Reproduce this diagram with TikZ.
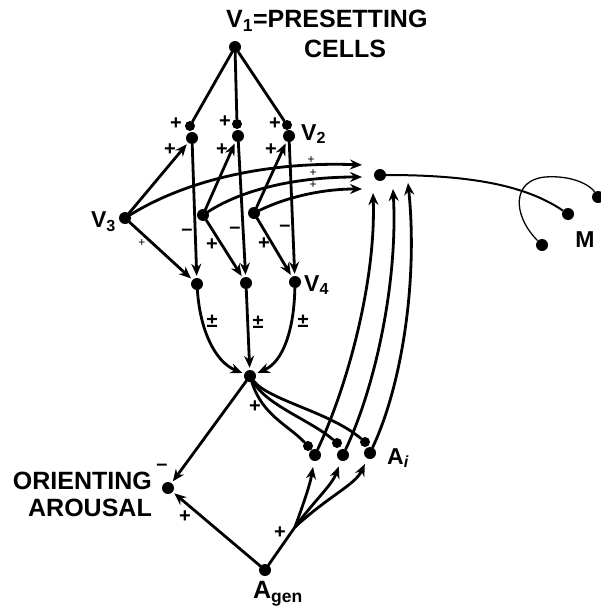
\documentclass[tikz,border=0pt]{standalone}
\usepackage{fontspec}
\setmainfont{Liberation Sans}
\usetikzlibrary{arrows.meta,positioning}
\tikzset{
  >={Stealth[length=12pt,width=10pt]},
  every node/.style={font=\fontsize{25}{28}\selectfont\bfseries},
  % --- nodes
  cell/.style = {circle, fill=black, inner sep=0pt, minimum size=12pt},
  knob/.style = {circle, fill=black, inner sep=0pt, minimum size=10pt},
  lbl/.style  = {font=\fontsize{23}{24}\selectfont\bfseries, inner sep=1pt},
  sgn/.style  = {font=\fontsize{20}{21}\selectfont\bfseries, inner sep=1pt},
  tsgn/.style = {font=\fontsize{12}{13}\selectfont, inner sep=1pt},
  % --- edges
  ax/.style   = {line width=2.8pt, line cap=round},
  axa/.style  = {ax, ->, shorten >=2pt},
  fine/.style = {line width=1.3pt},
}
\begin{document}
\begin{tikzpicture}[x=1pt,y=-1pt]
  \useasboundingbox (0,0) rectangle (601,610);

  % presetting cells
  \node[cell] (v1) at (235,47) {};
  \node[anchor=west, inner sep=0pt] (v1l) at (226,21) {V\textsubscript{1}=PRESETTING};
  \node[inner sep=0pt] (cells) at (345,49) {CELLS};

  % V2 cells and their knobs
  \node[knob] (ka1) at (190,126) {};
  \node[knob] (kb1) at (237,124) {};
  \node[knob] (kc1) at (287,125) {};
  \node[cell] (v2a) at (192,138) {};
  \node[cell] (v2b) at (238,136) {};
  \node[cell] (v2c) at (289,136) {};
  \node[lbl, anchor=west] (v2l) at (300,134) {V\textsubscript{2}};
  \draw[ax] (v1) -- (ka1);
  \draw[ax] (v1) -- (kb1);
  \draw[ax] (v1) -- (kc1);
  \node[sgn] at (176,124) {+};
  \node[sgn] at (225,122) {+};
  \node[sgn] at (275,124) {+};

  % V3 and the other sources
  \node[cell] (v3) at (125,218) {};
  \node[cell] (s2) at (203,215) {};
  \node[cell] (s3) at (254,213) {};
  \node[lbl, anchor=east] (v3l) at (117,222) {V\textsubscript{3}};
  \draw[axa] (v3) -- (v2a);
  \draw[axa] (s2) -- (v2b);
  \draw[axa] (s3) -- (v2c);
  \node[sgn] at (170,150) {+};
  \node[sgn] at (222,150) {+};
  \node[sgn] at (271,150) {+};

  % V4 cells
  \node[cell] (v4a) at (197,284) {};
  \node[cell] (v4b) at (246,283) {};
  \node[cell] (v4c) at (295,282) {};
  \node[lbl, anchor=west] (v4l) at (303,285) {V\textsubscript{4}};
  \draw[axa] (v2a) -- (v4a);
  \draw[axa] (v2b) -- (v4b);
  \draw[axa] (v2c) -- (v4c);
  \node[sgn] at (187,232) {--};
  \node[sgn] at (235,230) {--};
  \node[sgn] at (285,228) {--};
  \draw[axa] (v3) -- (v4a);
  \draw[axa] (s2) -- (v4b);
  \draw[axa] (s3) -- (v4c);
  \node[tsgn] at (142,243) {+};
  \node[sgn] at (212,245) {+};
  \node[sgn] at (264,244) {+};

  % converging cell and M
  \node[cell] (mc) at (380,175) {};
  \coordinate (i1) at (362,165);
  \coordinate (i2) at (362,177);
  \coordinate (i3) at (362,189);
  \draw[ax, ->] (v3) .. controls (200,172) and (290,162) .. (i1);
  \draw[ax, ->] (s2) .. controls (245,188) and (300,177) .. (i2);
  \draw[ax, ->] (s3) .. controls (285,198) and (320,189) .. (i3);
  \node[tsgn] at (311,160) {+};
  \node[tsgn] at (313,173) {+};
  \node[tsgn] at (313,185) {+};
  \node[cell] (mx) at (568,214) {};
  \node[cell] (my) at (598,197) {};
  \node[cell] (mz) at (542,245) {};
  \node[lbl] (ml) at (585,240) {M};
  \draw[line width=2pt] (mc) .. controls (470,175) and (525,185) .. (mx);
  \draw[fine] (mz) .. controls (512,215) and (512,180) .. (545,177)
              .. controls (572,175) and (590,185) .. (my);

  % central cell
  \node[cell] (c) at (250,376) {};
  \draw[axa] (v4a) .. controls (200,330) and (215,362) .. (c);
  \draw[axa] (v4b) -- (c);
  \draw[axa] (v4c) .. controls (294,330) and (283,362) .. (c);
  \node[sgn] at (212,321) {±};
  \node[sgn] at (258,322) {±};
  \node[sgn] at (303,321) {±};

  % A_i cells
  \node[cell] (ai1) at (315,455) {};
  \node[cell] (ai2) at (343,455) {};
  \node[cell] (ai3) at (370,453) {};
  \node[knob] (ka) at (308,446) {};
  \node[knob] (kb) at (337,443) {};
  \node[knob] (kc) at (365,442) {};
  \node[lbl, anchor=west] (ail) at (386,458) {A\textsubscript{\textit{i}}};
  \draw[ax] (c) .. controls (262,415) and (288,425) .. (ka);
  \draw[ax] (c) .. controls (266,405) and (310,420) .. (kb);
  \draw[ax] (c) .. controls (268,400) and (330,412) .. (kc);
  \node[sgn] at (255,407) {+};
  \coordinate (t1) at (373,193);
  \coordinate (t2) at (393,189);
  \coordinate (t3) at (408,183);
  \draw[ax, ->] (ai1) .. controls (348,385) and (376,280) .. (t1);
  \draw[ax, ->] (ai2) .. controls (376,385) and (398,280) .. (t2);
  \draw[ax, ->] (ai3) .. controls (402,385) and (418,280) .. (t3);

  % orienting arousal and A_gen
  \node[cell] (or) at (168,488) {};
  \node[anchor=east, align=right, inner sep=0pt, font=\fontsize{25}{27}\selectfont\bfseries] (orl) at (152,494) {ORIENTING\\AROUSAL};
  \draw[axa] (c) -- (or);
  \node[sgn] at (162,467) {--};
  \node[cell] (ag) at (265,570) {};
  \node[inner sep=0pt] (agl) at (278,594) {A\textsubscript{gen}};
  \draw[axa] (ag) -- (or);
  \node[sgn] at (185,517) {+};
  \coordinate (sp) at (295,527);
  \draw[ax] (ag) -- (sp);
  \draw[axa, shorten >=6pt] (sp) .. controls (303,505) and (310,485) .. (ai1);
  \draw[axa, shorten >=6pt] (sp) .. controls (315,500) and (332,485) .. (ai2);
  \draw[axa, shorten >=6pt] (sp) .. controls (330,495) and (355,485) .. (ai3);
  \node[sgn] at (280,533) {+};
\end{tikzpicture}
\end{document}
